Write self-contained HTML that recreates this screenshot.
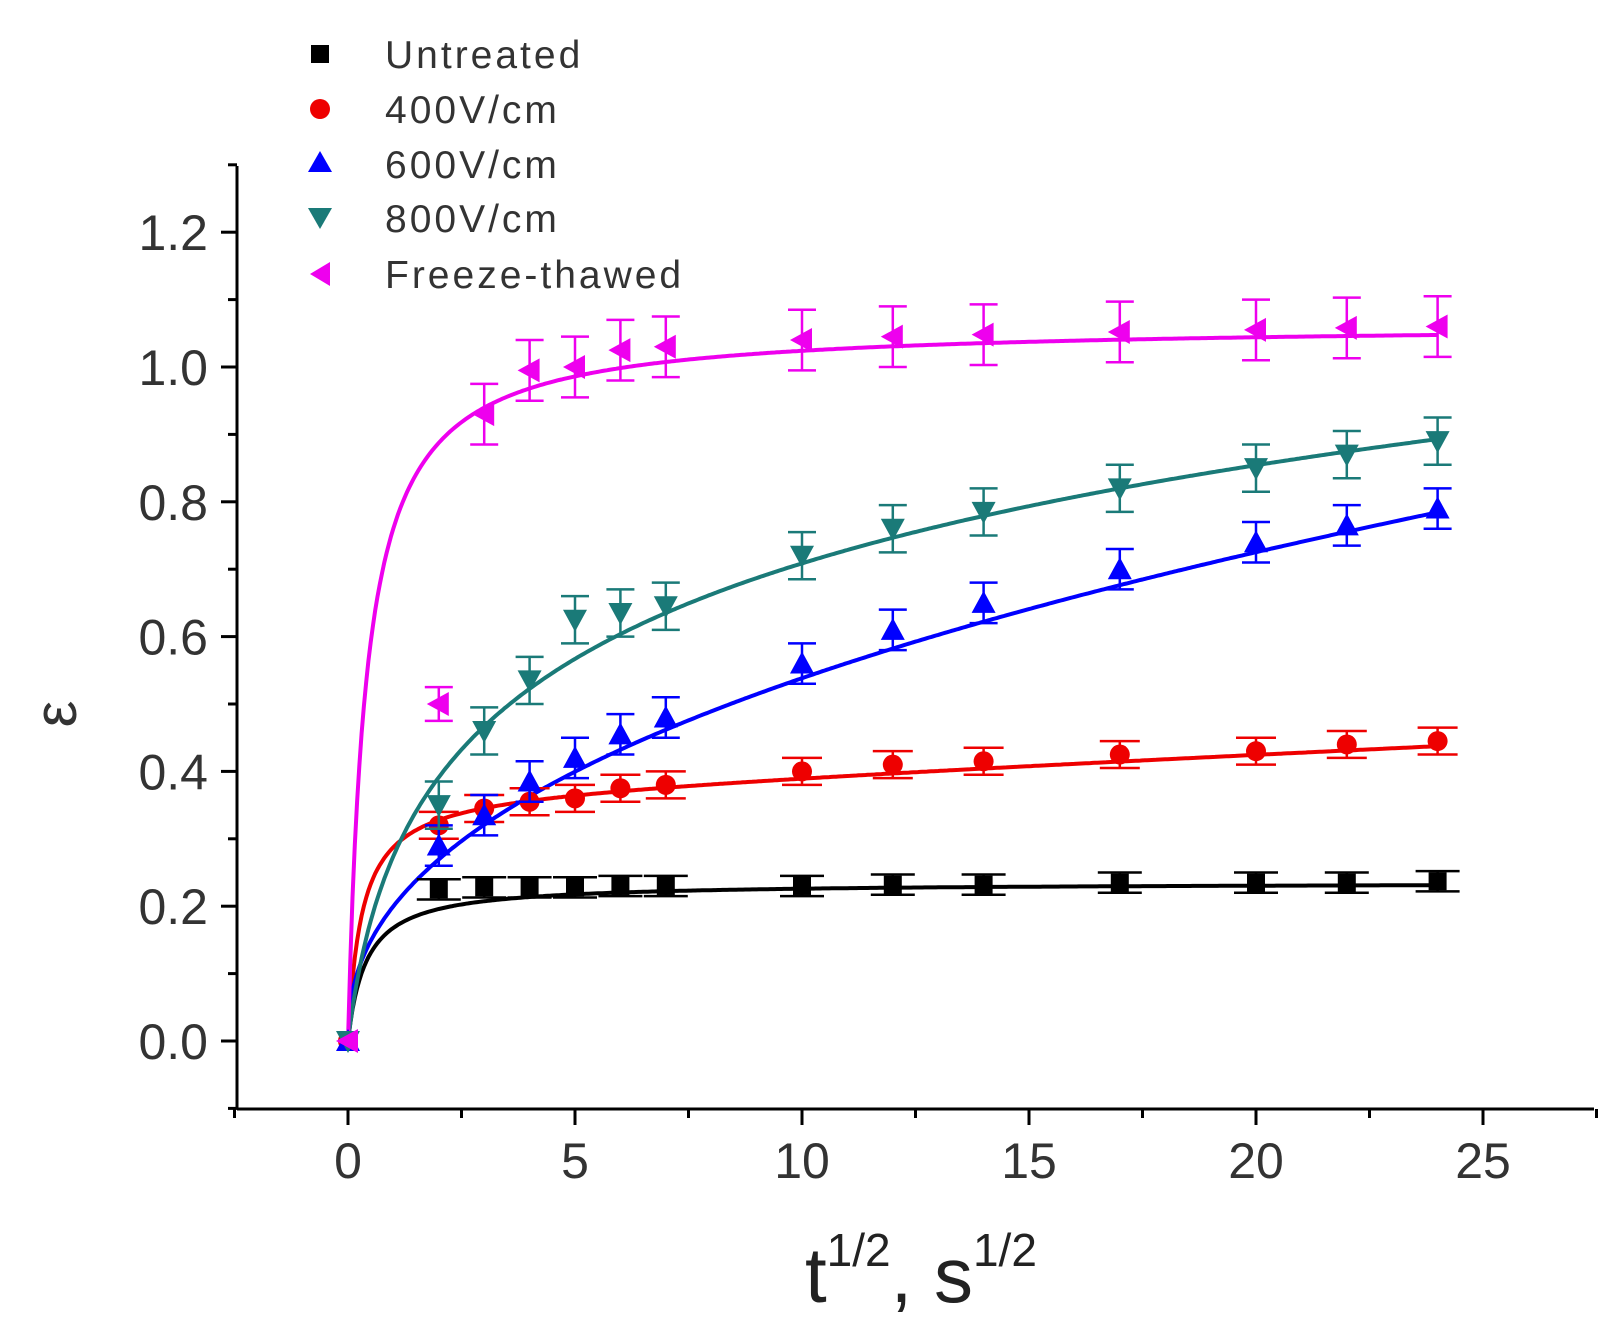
<!DOCTYPE html>
<html><head><meta charset="utf-8"><style>
html,body{margin:0;padding:0;background:#fff;}
svg{display:block;font-family:"Liberation Sans",Arial,sans-serif;}
</style></head><body>
<svg id="s" width="1615" height="1335" viewBox="0 0 1615 1335" xmlns="http://www.w3.org/2000/svg">
<g id="axes" stroke="#000" stroke-width="3" fill="none">
<line x1="237" y1="166" x2="237" y2="1109"/>
<line x1="237" y1="1109" x2="1594" y2="1109"/>
</g>
<g id="ticks"></g>
<g id="curves"></g>
<g id="pts"></g>
<g font-size="50" fill="#333" text-anchor="end" id="ylab"></g>
<g font-size="50" fill="#333" text-anchor="middle" id="xlab"></g>
<text x="60" y="714" font-size="60" fill="#333" text-anchor="middle" transform="rotate(-90 60 714)" dominant-baseline="middle">ε</text>
<text x="805" y="1302" font-size="78" fill="#222">t<tspan font-size="46" dy="-36">1/2</tspan><tspan dy="36">, s</tspan><tspan font-size="46" dy="-36">1/2</tspan></text>
<g font-size="39" fill="#333" letter-spacing="3">
<rect x="311" y="45" width="18" height="18" fill="#000"/>
<text x="385" y="68">Untreated</text>
<circle cx="320" cy="109" r="10" fill="#e00"/>
<text x="385" y="123">400V/cm</text>
<polygon points="308,172 332,172 320,151" fill="#00f"/>
<text x="385" y="178">600V/cm</text>
<polygon points="308,208 332,208 320,229" fill="#1a7a78"/>
<text x="385" y="232">800V/cm</text>
<polygon points="330,262 330,286 310,274" fill="#e0e"/>
<text x="385" y="288">Freeze-thawed</text>
</g>
</svg>
<script>
var NS="http://www.w3.org/2000/svg";
function X(x){return 348+45.4*x;}function Y(y){return 1041-674*y;}
function el(p,t,a){var e=document.createElementNS(NS,t);for(var k in a)e.setAttribute(k,a[k]);document.getElementById(p).appendChild(e);return e;}
for(var v=-2.5;v<=27.5;v+=2.5){var maj=Math.abs(v%5)<1e-6;el("ticks","line",{x1:X(v),x2:X(v),y1:1109,y2:1109+(maj?16:9),stroke:"#000","stroke-width":3});
 if(maj&&v>=0&&v<=25){var t=el("xlab","text",{x:X(v),y:1178});t.textContent=v;}}
for(var i=-1;i<=13;i++){var y=i/10,maj=i%2==0;el("ticks","line",{x1:237,x2:237-(maj?16:9),y1:Y(y),y2:Y(y),stroke:"#000","stroke-width":3});
 if(maj&&i>=0&&i<=12){var t=el("ylab","text",{x:208,y:Y(y)+18});t.textContent=y.toFixed(1);}}
var xs=[0,2,3,4,5,6,7,10,12,14,17,20,22,24];
var S=[
{c:"#000",m:"sq",e:0.015,cap:22,y:[0,.225,.228,.228,.228,.23,.23,.23,.232,.232,.235,.235,.235,.237],f:function(x){return .235*x/(.4+x);}},
{c:"#e00",m:"ci",e:0.02,cap:20,y:[0,.32,.345,.355,.36,.375,.38,.40,.41,.415,.425,.43,.44,.445],f:function(x){return .37*x/(.3+x)+.003*x;}},
{c:"#00f",m:"up",e:0.03,cap:14,y:[0,.29,.335,.385,.42,.455,.48,.56,.61,.65,.70,.74,.765,.79],f:function(x){return .2*Math.pow(x,.43);}},
{c:"#1a7a78",m:"dn",e:0.035,cap:14,y:[0,.35,.46,.535,.625,.635,.645,.72,.76,.785,.82,.85,.87,.89],f:function(x){return .216*Math.log(1+2.56*x);}},
{c:"#e0e",m:"lt",e:0.045,cap:14,y:[0,.5,.93,.995,1.0,1.025,1.03,1.04,1.045,1.048,1.052,1.055,1.058,1.06],f:function(x){return 1.065*x/(.4+x);}}
];
S.forEach(function(s){var d="";for(var x=0;x<=24.001;x+=0.05){d+=(x==0?"M":"L")+X(x).toFixed(1)+","+Y(s.f(x)).toFixed(1);}
 el("curves","path",{d:d,fill:"none",stroke:s.c,"stroke-width":4});
 xs.forEach(function(x,i){var y=s.y[i],px=X(x),py=Y(y),e=(i==0?0:(x==2&&s.m=="lt"?.025:s.e))*674;
  if(e>0){el("pts","line",{x1:px,x2:px,y1:py-e,y2:py+e,stroke:s.c,"stroke-width":2.5});
   [py-e,py+e].forEach(function(q){el("pts","line",{x1:px-s.cap,x2:px+s.cap,y1:q,y2:q,stroke:s.c,"stroke-width":2.5});});}
  if(s.m=="sq")el("pts","rect",{x:px-9,y:py-9,width:18,height:18,fill:s.c});
  else if(s.m=="ci")el("pts","circle",{cx:px,cy:py,r:10,fill:s.c});
  else if(s.m=="up")el("pts","polygon",{points:(px-12)+","+(py+10)+" "+(px+12)+","+(py+10)+" "+px+","+(py-12),fill:s.c});
  else if(s.m=="dn")el("pts","polygon",{points:(px-12)+","+(py-10)+" "+(px+12)+","+(py-10)+" "+px+","+(py+12),fill:s.c});
  else el("pts","polygon",{points:(px+10)+","+(py-12)+" "+(px+10)+","+(py+12)+" "+(px-12)+","+py,fill:s.c});
 });
});
</script>
</body></html>
